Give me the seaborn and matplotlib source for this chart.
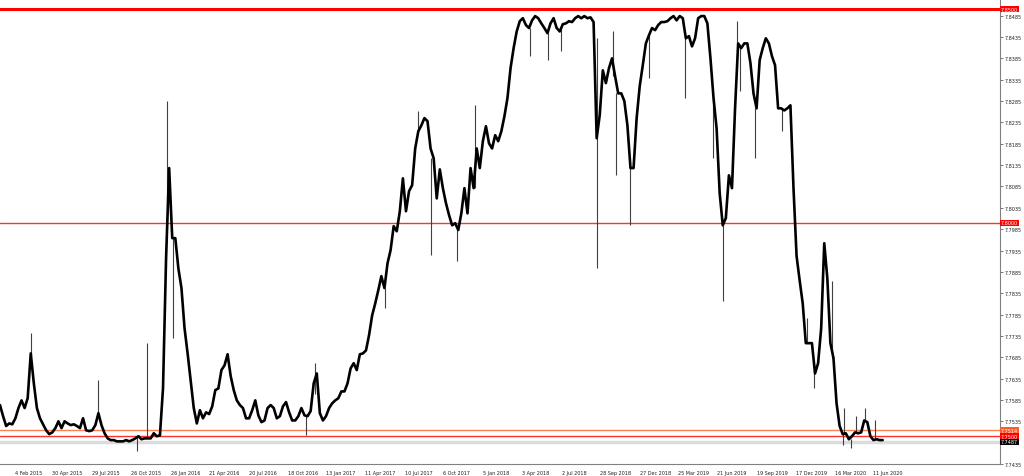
import matplotlib
matplotlib.use("Agg")
import matplotlib.pyplot as plt
import matplotlib.transforms as mtransforms
import pandas as pd
import seaborn as sns

# weekly USD/HKD closes
close = [
    7.7573, 7.7547, 7.7524, 7.7530, 7.7528, 7.7542, 7.7566, 7.7584, 7.7566, 7.7589,
    7.7694, 7.7624, 7.7566, 7.7542, 7.7528, 7.7514, 7.7505, 7.7509, 7.7519, 7.7535,
    7.7519, 7.7535, 7.7530, 7.7526, 7.7528, 7.7524, 7.7519, 7.7542, 7.7514, 7.7512,
    7.7514, 7.7526, 7.7554, 7.7526, 7.7507, 7.7495, 7.7491, 7.7491, 7.7488, 7.7488,
    7.7488, 7.7491, 7.7488, 7.7491, 7.7495, 7.7500, 7.7493, 7.7495, 7.7495, 7.7495,
    7.7507, 7.7500, 7.7502, 7.7612, 7.7917, 7.8128, 7.7964, 7.7964, 7.7893, 7.7847,
    7.7753, 7.7694, 7.7629, 7.7566, 7.7530, 7.7561, 7.7542, 7.7556, 7.7552, 7.7570,
    7.7608, 7.7612, 7.7655, 7.7666, 7.7692, 7.7641, 7.7608, 7.7584, 7.7573, 7.7566,
    7.7542, 7.7542, 7.7561, 7.7584, 7.7549, 7.7533, 7.7537, 7.7566, 7.7573, 7.7566,
    7.7542, 7.7547, 7.7570, 7.7580, 7.7556, 7.7537, 7.7537, 7.7547, 7.7566, 7.7549,
    7.7547, 7.7559, 7.7624, 7.7647, 7.7554, 7.7537, 7.7547, 7.7566, 7.7577, 7.7584,
    7.7589, 7.7605, 7.7605, 7.7624, 7.7659, 7.7671, 7.7655, 7.7692, 7.7694, 7.7701,
    7.7737, 7.7783, 7.7811, 7.7842, 7.7875, 7.7847, 7.7905, 7.7936, 7.7992, 7.7980,
    7.8027, 7.8104, 7.8027, 7.8074, 7.8088, 7.8174, 7.8214, 7.8228, 7.8245, 7.8238,
    7.8174, 7.8151, 7.8057, 7.8125, 7.8081, 7.8046, 7.8018, 7.7994, 7.7999, 7.7983,
    7.8022, 7.8081, 7.8022, 7.8128, 7.8081, 7.8174, 7.8128, 7.8191, 7.8226, 7.8186,
    7.8174, 7.8205, 7.8191, 7.8214, 7.8249, 7.8292, 7.8362, 7.8409, 7.8448, 7.8472,
    7.8479, 7.8463, 7.8456, 7.8474, 7.8484, 7.8479, 7.8467, 7.8456, 7.8444, 7.8467,
    7.8479, 7.8456, 7.8448, 7.8465, 7.8467, 7.8472, 7.8470, 7.8479, 7.8484, 7.8479,
    7.8484, 7.8479, 7.8481, 7.8470, 7.8198, 7.8252, 7.8357, 7.8327, 7.8362, 7.8385,
    7.8343, 7.8303, 7.8303, 7.8285, 7.8228, 7.8128, 7.8128, 7.8245, 7.8320, 7.8369,
    7.8420, 7.8439, 7.8456, 7.8451, 7.8463, 7.8470, 7.8470, 7.8472, 7.8479, 7.8484,
    7.8474, 7.8484, 7.8479, 7.8432, 7.8437, 7.8413, 7.8432, 7.8479, 7.8484, 7.8484,
    7.8467, 7.8385, 7.8292, 7.8221, 7.8069, 7.7994, 7.8011, 7.8111, 7.8081, 7.8268,
    7.8420, 7.8409, 7.8420, 7.8420, 7.8374, 7.8303, 7.8268, 7.8381, 7.8409, 7.8432,
    7.8420, 7.8390, 7.8369, 7.8268, 7.8268, 7.8263, 7.8268, 7.8275, 7.8081, 7.7922,
    7.7865, 7.7811, 7.7718, 7.7718, 7.7718, 7.7647, 7.7671, 7.7753, 7.7952, 7.7870,
    7.7718, 7.7683, 7.7577, 7.7524, 7.7505, 7.7507, 7.7493, 7.7500, 7.7509, 7.7507,
    7.7509, 7.7537, 7.7533, 7.7500, 7.7491, 7.7493, 7.7491, 7.7491,
]
dates = pd.date_range("2015-01-01", periods=len(close), freq="7D")

# short-lived spikes (wicks)
wick_dates = [
    "2015-03-12", "2015-08-12", "2015-11-08", "2015-12-01", "2016-01-16",
    "2016-01-30", "2016-11-27", "2016-12-18", "2017-05-26", "2017-08-09",
    "2017-09-08", "2017-11-06", "2017-12-17", "2018-04-21", "2018-06-01",
    "2018-07-01", "2018-09-21", "2018-10-27", "2018-11-03", "2018-12-05",
    "2019-01-17", "2019-04-09", "2019-06-12", "2019-07-05", "2019-08-06",
    "2019-08-12", "2019-09-16", "2019-11-16", "2020-01-12", "2020-01-28",
    "2020-03-09", "2020-04-03", "2020-04-05", "2020-04-21", "2020-05-03",
    "2020-05-23", "2020-06-15",
]
wick_low = [
    7.7690, 7.7550, 7.7465, 7.7495, 7.8000,
    7.7729, 7.7502, 7.7600, 7.7800, 7.8214,
    7.7924, 7.7910, 7.8081, 7.8390, 7.8381,
    7.8402, 7.7894, 7.8343, 7.8111, 7.7994,
    7.8338, 7.8292, 7.8151, 7.7816, 7.8420,
    7.8308, 7.8151, 7.8214, 7.7718, 7.7612,
    7.7683, 7.7479, 7.7505, 7.7472, 7.7509,
    7.7537, 7.7491,
]
wick_high = [
    7.7741, 7.7631, 7.7500, 7.7718, 7.8285,
    7.7964, 7.7549, 7.7671, 7.7847, 7.8261,
    7.8151, 7.7983, 7.8275, 7.8456, 7.8444,
    7.8456, 7.8432, 7.8448, 7.8303, 7.8128,
    7.8439, 7.8432, 7.8292, 7.7994, 7.8472,
    7.8409, 7.8268, 7.8268, 7.7776, 7.7671,
    7.7863, 7.7505, 7.7566, 7.7493, 7.7547,
    7.7566, 7.7538,
]

tick_dates = [
    "2015-02-04", "2015-04-30", "2015-07-29", "2015-10-26", "2016-01-26",
    "2016-04-21", "2016-07-20", "2016-10-18", "2017-01-13", "2017-04-11",
    "2017-07-10", "2017-10-06", "2018-01-05", "2018-04-03", "2018-07-02",
    "2018-09-28", "2018-12-27", "2019-03-25", "2019-06-21", "2019-09-19",
    "2019-12-17", "2020-03-16", "2020-06-11",
]
tick_labels = [
    "4 Feb 2015", "30 Apr 2015", "29 Jul 2015", "26 Oct 2015", "26 Jan 2016",
    "21 Apr 2016", "20 Jul 2016", "18 Oct 2016", "13 Jan 2017", "11 Apr 2017",
    "10 Jul 2017", "6 Oct 2017", "5 Jan 2018", "3 Apr 2018", "2 Jul 2018",
    "28 Sep 2018", "27 Dec 2018", "25 Mar 2019", "21 Jun 2019", "19 Sep 2019",
    "17 Dec 2019", "16 Mar 2020", "11 Jun 2020",
]
price_ticks = [7.7435 + 0.005 * k for k in range(22)]

levels = [7.8500, 7.8000, 7.7514, 7.7500]
last_price = 7.7487

sns.set_style("white")
plt.rcParams["font.family"] = ["DejaVu Sans"]
FS = 3.5

fig = plt.figure(figsize=(10.24, 4.77), dpi=100)
ax = fig.add_axes([0.0, 12 / 477, 1000 / 1024, 465 / 477])

df = pd.DataFrame({"date": dates, "close": close})

# bid line of the current price
ax.axhline(last_price, color="#dcdcdc", lw=2.5, zorder=1)

level_style = {
    7.8500: ("#ff0000", 2.2, "#ff0000"),
    7.8000: ("#ff3030", 1.0, "#ff0000"),
    7.7514: ("#ff7f50", 1.0, "#ff5a2a"),
    7.7500: ("#ff3030", 1.0, "#ff0000"),
}
for lv in levels:
    c, w, _ = level_style[lv]
    ax.axhline(lv, color=c, lw=w, zorder=2)

ax.vlines(pd.to_datetime(wick_dates), wick_low, wick_high,
          color="#404040", lw=0.8, zorder=3)
sns.lineplot(data=df, x="date", y="close", ax=ax, color="black",
             lw=1.9, zorder=4)

ax.set_xlim(pd.Timestamp("2015-01-01"), pd.Timestamp("2021-03-26"))
ax.set_ylim(7.7435, 7.8524)

ax.set_xticks(pd.to_datetime(tick_dates))
ax.set_xticklabels(tick_labels, ha="left", fontsize=FS, color="#202020")
ax.yaxis.tick_right()
ax.set_yticks(price_ticks)
# 7.7485 sits under the current-price box
ax.set_yticklabels(["" if abs(v - 7.7485) < 1e-6 else f"{v:.4f}"
                    for v in price_ticks], fontsize=FS, color="#202020")
ax.tick_params(axis="x", length=3, width=0.6, pad=1, color="#606060")
ax.tick_params(axis="y", length=2, width=0.6, pad=1.5, color="#606060")
ax.set_xlabel("")
ax.set_ylabel("")

for side in ["left", "top"]:
    ax.spines[side].set_visible(False)
for side in ["right", "bottom"]:
    ax.spines[side].set_color("#808080")
    ax.spines[side].set_linewidth(0.8)

trans = mtransforms.blended_transform_factory(ax.transAxes, ax.transData)
for lv in levels:
    box = level_style[lv][2]
    ax.text(1.001, lv, f"{lv:.4f}", transform=trans, fontsize=FS,
            color="white", ha="left", va="center", clip_on=False, zorder=10,
            bbox=dict(boxstyle="square,pad=0.12", fc=box, ec="none"))
ax.text(1.001, last_price, f"{last_price:.4f}", transform=trans,
        fontsize=FS, color="white", ha="left", va="center", clip_on=False,
        zorder=10, bbox=dict(boxstyle="square,pad=0.12", fc="black", ec="none"))

fig.savefig("out.png", dpi=100)
